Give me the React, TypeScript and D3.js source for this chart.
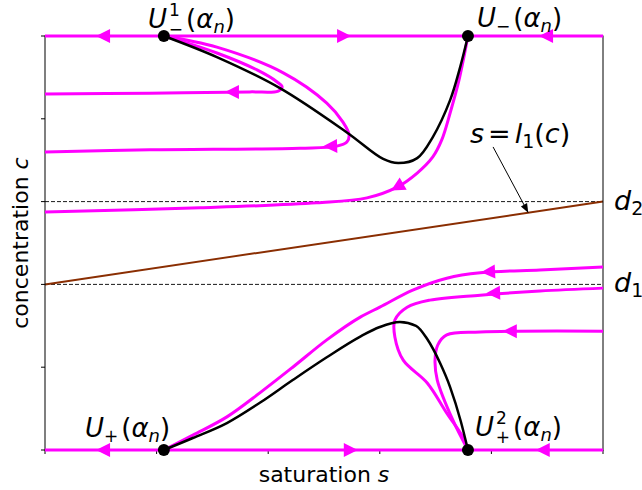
import React from 'react';
import * as d3 from 'd3';

const W = 642;
const H = 490;
const margin = { left: 45, right: 39, top: 36, bottom: 40 };

// tick positions (no labels on the chart)
const sTicks = [0, 0.2, 0.4, 0.6, 0.8, 1];
const cTicks = [0, 0.2, 0.4, 0.6, 0.8, 1];

// levels d1, d2 and the line s = l1(c)
const d1 = 0.4;
const d2 = 0.6;

// equilibria (s, c)
const equilibria: [number, number][] = [
  [0.213, 1], [0.758, 1], [0.213, 0], [0.758, 0],
];

// black separatrices
const blackTop: [number, number][] = [
  [0.213, 1.0], [0.308, 0.949], [0.421, 0.874], [0.541, 0.767], [0.606, 0.703],
  [0.633, 0.693], [0.667, 0.705], [0.695, 0.756], [0.726, 0.845], [0.744, 0.925], [0.758, 1.0],
];
const blackBottom: [number, number][] = [
  [0.213, 0], [0.265, 0.029], [0.326, 0.065], [0.385, 0.114], [0.444, 0.169], [0.505, 0.224],
  [0.565, 0.274], [0.6, 0.297], [0.636, 0.309], [0.665, 0.3], [0.685, 0.268],
  [0.708, 0.21], [0.726, 0.152], [0.745, 0.07], [0.758, 0],
];

// magenta trajectories
const topEdge: [number, number][] = [[0, 1], [1, 1]];
const bottomEdge: [number, number][] = [[0, 0], [1, 0]];
const loopSmall: [number, number][] = [
  [0.213, 1.0], [0.308, 0.959], [0.38, 0.918], [0.416, 0.889], [0.425, 0.877],
  [0.418, 0.867], [0.367, 0.865], [0.188, 0.862], [0, 0.86],
];
const loopBig: [number, number][] = [
  [0.213, 1.0], [0.308, 0.973], [0.427, 0.911], [0.505, 0.838], [0.534, 0.792], [0.545, 0.761],
  [0.541, 0.744], [0.523, 0.734], [0.457, 0.729], [0.188, 0.725], [0, 0.72],
];
const fromUminus: [number, number][] = [
  [0.758, 1.0], [0.742, 0.894], [0.726, 0.814], [0.711, 0.749], [0.695, 0.708], [0.667, 0.669],
  [0.631, 0.635], [0.577, 0.609], [0.487, 0.597], [0.278, 0.585], [0, 0.575],
];
const toUplus: [number, number][] = [
  [1.0, 0.442], [0.887, 0.435], [0.78, 0.428], [0.72, 0.415], [0.659, 0.386], [0.6, 0.345],
  [0.565, 0.321], [0.505, 0.266], [0.444, 0.2], [0.385, 0.138], [0.326, 0.08], [0.265, 0.036], [0.213, 0],
];
const toUplus2a: [number, number][] = [
  [1.0, 0.391], [0.887, 0.384], [0.78, 0.374], [0.69, 0.362], [0.649, 0.345], [0.627, 0.314],
  [0.627, 0.273], [0.642, 0.217], [0.685, 0.162], [0.72, 0.089], [0.749, 0.031], [0.758, 0],
];
const toUplus2b: [number, number][] = [
  [1.0, 0.287], [0.78, 0.285], [0.72, 0.278], [0.704, 0.254], [0.699, 0.217], [0.703, 0.169],
  [0.731, 0.072], [0.758, 0],
];
const magentaCurves = [topEdge, bottomEdge, loopSmall, loopBig, fromUminus, toUplus2a, toUplus2b];

// direction arrows: s, c, heading in degrees (screen)
const arrows: [number, number, number][] = [
  [0.104, 1, 180], [0.536, 1, 0], [0.898, 1, 180],
  [0.104, 0, 180], [0.548, 0, 0], [0.892, 0, 180],
  [0.335, 0.865, 180], [0.511, 0.734, 178], [0.631, 0.635, 150],
  [0.794, 0.43, 177], [0.803, 0.379, 178], [0.833, 0.287, 180],
];

// annotation for s = l1(c)
const annoFrom: [number, number] = [0.803, 0.732];
const annoS = 0.866;

const F = 'DejaVu Sans';

// U with scripts and (alpha_n), as one text element
const UL = ({ x, y, sup, sub }: { x: number; y: number; sup?: string; sub: string }) => (
  <text x={x} y={y} fontFamily={F} fontSize={26} fill="#000">
    <tspan fontStyle="italic">U</tspan>
    {sup && <tspan fontSize={17} dx={2} dy={-12}>{sup}</tspan>}
    <tspan fontSize={17} dx={sup ? -11 : 0} dy={sup ? 19 : 5}>{sub}</tspan>
    <tspan dx={3} dy={sup ? -7 : -5}>(</tspan>
    <tspan fontStyle="italic">α</tspan>
    <tspan fontStyle="italic" fontSize={18} dy={5}>n</tspan>
    <tspan dy={-5}>)</tspan>
  </text>
);

export default function App() {
  const x = d3.scaleLinear().domain([0, 1]).range([margin.left, W - margin.right]);
  const y = d3.scaleLinear().domain([0, 1]).range([H - margin.bottom, margin.top]);
  const line = d3.line<[number, number]>().x(d => x(d[0])).y(d => y(d[1])).curve(d3.curveCatmullRom.alpha(0.5));
  const smooth = d3.line<[number, number]>().x(d => x(d[0])).y(d => y(d[1])).curve(d3.curveMonotoneX);
  const l1 = (s: number) => d1 + (d2 - d1) * s;

  const ax = x(annoFrom[0]), ay = y(annoFrom[1]);
  const bx = x(annoS), by = y(l1(annoS));
  const ang = Math.atan2(by - ay, bx - ax) * 180 / Math.PI;

  return (
    <svg width={W} height={H} style={{ position: 'absolute', left: 0, top: 0, background: '#fff' }}>
      {/* dashed levels */}
      {[d1, d2].map(d => (
        <line key={d} x1={x(0)} x2={x(1)} y1={y(d)} y2={y(d)} stroke="#000" strokeWidth={0.9} strokeDasharray="4,2" />
      ))}
      {/* s = l1(c) */}
      <line x1={x(0)} y1={y(l1(0))} x2={x(1)} y2={y(l1(1))} stroke="#8a2e02" strokeWidth={2} />

      {/* frame */}
      <rect x={x(0)} y={y(1)} width={x(1) - x(0)} height={y(0) - y(1)} fill="none" stroke="#000" strokeWidth={1} />
      {sTicks.map(t => (
        <line key={'s' + t} x1={x(t)} x2={x(t)} y1={y(0)} y2={y(0) + 4} stroke="#000" strokeWidth={1} />
      ))}
      {cTicks.map(t => (
        <line key={'c' + t} x1={x(0) - 4} x2={x(0)} y1={y(t)} y2={y(t)} stroke="#000" strokeWidth={1} />
      ))}

      {/* trajectories */}
      {magentaCurves.map((c, i) => (
        <path key={i} d={line(c) || ''} fill="none" stroke="#ff00ff" strokeWidth={3} />
      ))}
      <path d={smooth([...toUplus].reverse()) || ''} fill="none" stroke="#ff00ff" strokeWidth={3} />
      {[blackTop, blackBottom].map((c, i) => (
        <path key={'b' + i} d={(i === 0 ? line(c) : smooth(c)) || ''} fill="none" stroke="#000" strokeWidth={2.5} />
      ))}
      {arrows.map(([s, c, a], i) => (
        <path key={'a' + i} d="M7,0 L-7,-7 L-7,7 Z" fill="#ff00ff"
          transform={`translate(${x(s)},${y(c)}) rotate(${a})`} />
      ))}
      {equilibria.map(([s, c], i) => (
        <circle key={'e' + i} cx={x(s)} cy={y(c)} r={6} fill="#000" />
      ))}

      {/* annotation arrow */}
      <line x1={ax} y1={ay} x2={bx} y2={by} stroke="#000" strokeWidth={1} />
      <path d="M0,0 L-9,-3.5 L-9,3.5 Z" fill="#000" transform={`translate(${bx},${by}) rotate(${ang})`} />
      <text x={470} y={143} fontFamily={F} fontSize={27}>
        <tspan fontStyle="italic">s</tspan>
        <tspan dx={4}>=</tspan>
        <tspan dx={4} fontStyle="italic">l</tspan>
        <tspan fontSize={19} dy={5}>1</tspan>
        <tspan dy={-5}>(</tspan>
        <tspan fontStyle="italic">c</tspan>
        <tspan>)</tspan>
      </text>

      {/* level labels */}
      {[[d2, '2'], [d1, '1']].map(([d, k]) => (
        <text key={k as string} x={614} y={y(d as number) + 8} fontFamily={F} fontSize={27}>
          <tspan fontStyle="italic">d</tspan>
          <tspan fontSize={19} dy={5}>{k}</tspan>
        </text>
      ))}

      {/* equilibrium labels */}
      <UL x={148} y={28} sup="1" sub="−" />
      <UL x={477} y={27} sub="−" />
      <UL x={85} y={437} sub="+" />
      <UL x={475} y={436} sup="2" sub="+" />

      {/* axis labels */}
      <text x={(x(0) + x(1)) / 2} y={482} textAnchor="middle" fontFamily={F} fontSize={22}>
        saturation <tspan fontStyle="italic">s</tspan>
      </text>
      <text transform={`translate(28,${(y(0) + y(1)) / 2}) rotate(-90)`} textAnchor="middle" fontFamily={F} fontSize={22}>
        concentration <tspan fontStyle="italic">c</tspan>
      </text>
    </svg>
  );
}
